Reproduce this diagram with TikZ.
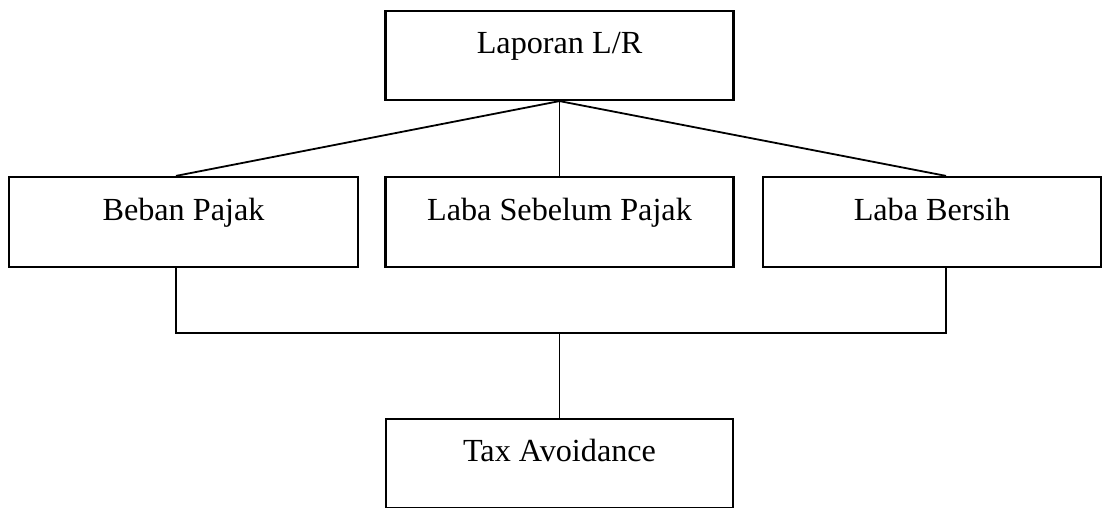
\documentclass[tikz,border=0pt]{standalone}
\usepackage{fontspec}
\setmainfont{Liberation Serif}
\begin{document}
\begin{tikzpicture}[x=1pt,y=1pt,
  boxnode/.style={draw, line width=2.2pt, inner sep=0pt, minimum height=89pt,
    text height=21pt, text depth=25pt, font=\fontsize{32.2}{38}\selectfont},
  conn/.style={line width=1.8pt}]
\useasboundingbox (0,0) rectangle (1103,507);
\clip (0,0) rectangle (1103,507);
\node[boxnode, minimum width=348pt] (top) at (559.5,451.5) {Laporan L/R};
\node[boxnode, minimum width=349pt, minimum height=90pt] (beban) at (183.5,285) {Beban Pajak};
\node[boxnode, minimum width=348pt, minimum height=90pt] (sebelum) at (559.5,285) {Laba Sebelum Pajak};
\node[boxnode, minimum width=338pt, minimum height=90pt] (bersih) at (932,285) {Laba Bersih};
\node[boxnode, minimum width=347pt] (tax) at (559.5,43.5) {Tax Avoidance};
\coordinate (bL) at (176,0);
\coordinate (bR) at (946,0);
\coordinate (bus) at (559.5,174);
\draw[conn] (top.south) -- (beban.north -| bL);
\draw[conn] (top.south) -- (sebelum.north);
\draw[conn] (top.south) -- (bersih.north -| bR);
\draw[conn] (beban.south -| bL) |- (bus) -| (bersih.south -| bR);
\draw[conn] (bus) -- (tax.north);
\end{tikzpicture}
\end{document}
